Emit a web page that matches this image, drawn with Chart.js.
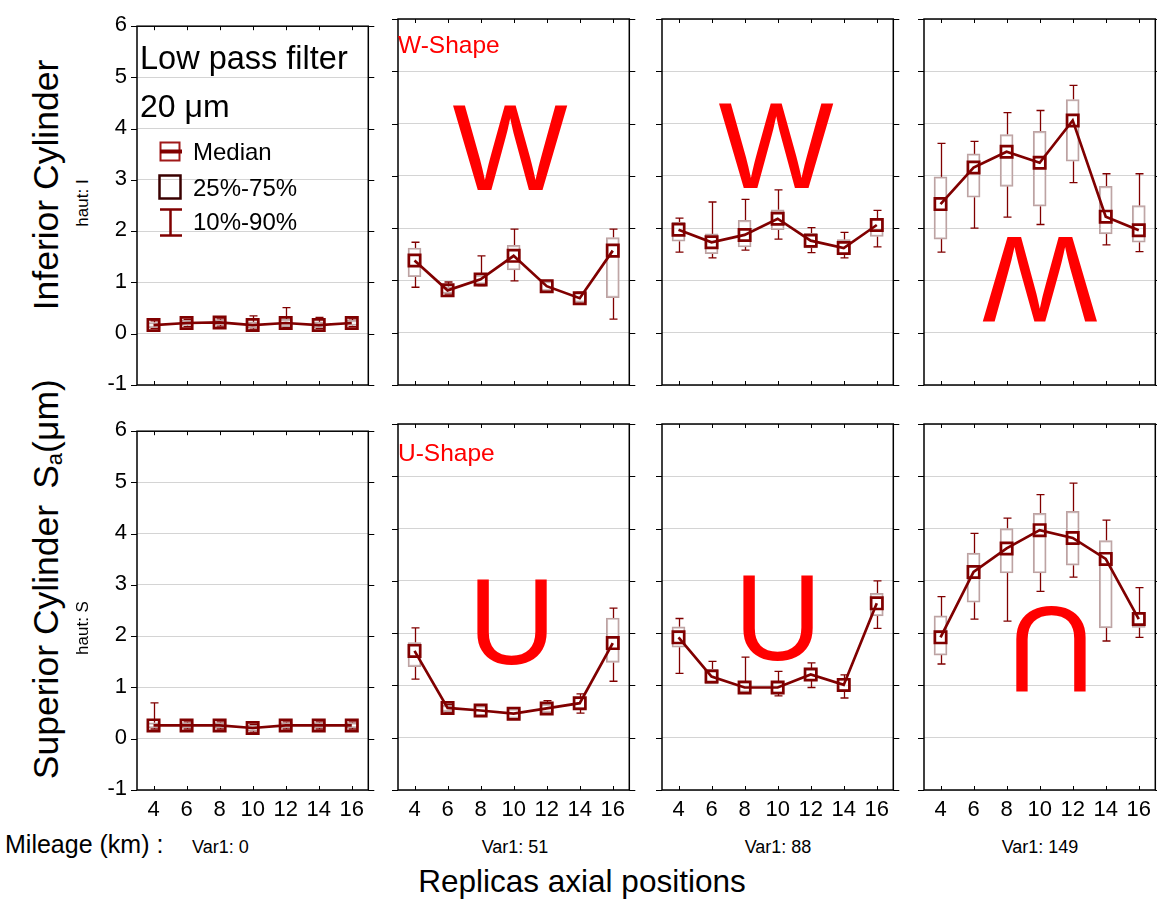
<!DOCTYPE html>
<html>
<head>
<meta charset="utf-8">
<script src="https://cdn.jsdelivr.net/npm/chart.js@4"></script>
<style>
  body { margin: 0; background: #fff; }
  #wrap { position: relative; width: 1157px; height: 902px; overflow: hidden; background: #fff;
          font-family: 'Liberation Sans', Arial, sans-serif; }
  .box { position: absolute; }
  .txt { position: absolute; line-height: 1; white-space: nowrap; color: #000; }
</style>
</head>
<body>
<div id="wrap"></div>
<script>
const positions = ['4', '6', '8', '10', '12', '14', '16'];
const mileages = ['Var1: 0', 'Var1: 51', 'Var1: 88', 'Var1: 149'];
const yTicks = [-1, 0, 1, 2, 3, 4, 5, 6];

// Inferior cylinder (haut: I), one row per mileage
const infMedian = [
    [0.17, 0.21, 0.22, 0.17, 0.21, 0.17, 0.21],
    [1.38, 0.81, 1.02, 1.47, 0.89, 0.66, 1.57],
    [1.97, 1.73, 1.87, 2.18, 1.76, 1.62, 2.06],
    [2.46, 3.16, 3.46, 3.25, 4.06, 2.22, 1.96]
];
const infQ1 = [
    [0.12, 0.16, 0.17, 0.11, 0.14, 0.12, 0.16],
    [1.07, 0.75, 0.93, 1.20, 0.80, 0.58, 0.67],
    [1.75, 1.51, 1.64, 1.97, 1.62, 1.49, 1.84],
    [1.79, 2.59, 2.80, 2.42, 3.28, 1.89, 1.73]
];
const infQ3 = [
    [0.22, 0.26, 0.27, 0.23, 0.28, 0.23, 0.26],
    [1.62, 0.88, 1.10, 1.67, 0.98, 0.76, 1.82],
    [2.11, 1.89, 2.15, 2.35, 1.90, 1.78, 2.19],
    [2.98, 3.42, 3.79, 3.85, 4.46, 2.80, 2.43]
];
const infP10 = [
    [0.10, 0.14, 0.15, 0.09, 0.12, 0.10, 0.14],
    [0.87, 0.74, 0.90, 0.99, 0.78, 0.56, 0.26],
    [1.54, 1.43, 1.58, 1.79, 1.53, 1.43, 1.64],
    [1.54, 2.00, 2.21, 2.07, 2.87, 1.68, 1.55]
];
const infP90 = [
    [0.25, 0.28, 0.29, 0.35, 0.51, 0.32, 0.29],
    [1.73, 0.97, 1.47, 1.98, 0.97, 0.77, 1.98],
    [2.19, 2.50, 2.55, 2.73, 2.01, 1.92, 2.34],
    [3.62, 3.66, 4.21, 4.25, 4.73, 3.04, 3.04]
];

// Superior cylinder (haut: S)
const supMedian = [
    [0.26, 0.26, 0.26, 0.21, 0.26, 0.26, 0.26],
    [1.66, 0.57, 0.52, 0.46, 0.56, 0.66, 1.81],
    [1.92, 1.17, 0.96, 0.96, 1.21, 1.01, 2.57],
    [1.92, 3.17, 3.62, 3.97, 3.82, 3.42, 2.27]
];
const supQ1 = [
    [0.21, 0.21, 0.21, 0.15, 0.21, 0.21, 0.21],
    [1.36, 0.50, 0.42, 0.37, 0.48, 0.55, 1.44],
    [1.73, 1.03, 0.87, 0.85, 1.09, 0.89, 2.33],
    [1.58, 2.59, 3.15, 3.15, 3.30, 2.10, 2.11]
];
const supQ3 = [
    [0.31, 0.31, 0.31, 0.26, 0.31, 0.31, 0.31],
    [1.82, 0.62, 0.61, 0.55, 0.64, 0.77, 2.29],
    [2.12, 1.31, 1.07, 1.06, 1.31, 1.12, 2.76],
    [2.33, 3.53, 4.00, 4.29, 4.33, 3.77, 2.40]
];
const supP10 = [
    [0.19, 0.19, 0.19, 0.13, 0.19, 0.19, 0.19],
    [1.12, 0.49, 0.41, 0.36, 0.45, 0.47, 1.08],
    [1.23, 1.03, 0.87, 0.80, 0.96, 0.76, 2.09],
    [1.41, 2.27, 2.23, 2.80, 3.07, 1.85, 1.92]
];
const supP90 = [
    [0.70, 0.33, 0.33, 0.28, 0.33, 0.33, 0.33],
    [2.10, 0.64, 0.63, 0.57, 0.71, 0.84, 2.48],
    [2.28, 1.46, 1.54, 1.27, 1.43, 1.20, 3.00],
    [2.70, 3.91, 4.20, 4.65, 4.87, 4.16, 2.87]
];

const FONT = "'Liberation Sans', Arial, sans-serif";
const DARK = '#800000';
const colLeft = [137, 398, 662, 924];
const rowTop = [19, 424];
const PW = 232, PH = 366;
const ML = 40, MR = 10, MT = 16, MB = 40;

const wrap = document.getElementById('wrap');

function addText(txt, x, base, size, opts = {}) {
    const d = document.createElement('div');
    d.className = 'txt';
    d.innerHTML = txt;
    d.style.fontSize = size + 'px';
    d.style.top = (base - 0.8465 * size) + 'px';
    if (opts.center) {
        d.style.left = (x - 300) + 'px';
        d.style.width = '600px';
        d.style.textAlign = 'center';
    } else {
        d.style.left = x + 'px';
    }
    if (opts.color) d.style.color = opts.color;
    wrap.appendChild(d);
    return d;
}

// vertical text reading bottom to top
function addVText(txt, baseX, centerY, size) {
    const d = document.createElement('div');
    d.className = 'txt';
    d.innerHTML = txt;
    d.style.fontSize = size + 'px';
    d.style.width = '400px';
    d.style.textAlign = 'center';
    d.style.left = (baseX - 0.8465 * size) + 'px';
    d.style.top = (centerY + 200) + 'px';
    d.style.transformOrigin = '0 0';
    d.style.transform = 'rotate(-90deg)';
    wrap.appendChild(d);
}

// big red shape letters
function bigLetter(ch, cx, y, flipped) {
    const size = 122;
    const d = document.createElement('div');
    d.className = 'txt';
    d.textContent = ch;
    d.style.fontSize = size + 'px';
    d.style.color = '#ff0000';
    d.style.width = '300px';
    d.style.textAlign = 'center';
    d.style.left = (cx - 150) + 'px';
    if (flipped) {
        d.style.top = (y - 0.1535 * size) + 'px';
        d.style.transform = 'rotate(180deg)';
    } else {
        d.style.top = (y - 0.8465 * size) + 'px';
    }
    wrap.appendChild(d);
}

function panelPlugin(stats) {
    return {
        id: 'panel',
        beforeDatasetsDraw(chart) {
            const { ctx, scales: { x, y } } = chart;
            ctx.save();
            ctx.strokeStyle = DARK;
            ctx.lineWidth = 1.3;
            const seg = (px, a, b) => {
                const ya = y.getPixelForValue(a), yb = y.getPixelForValue(b);
                ctx.beginPath();
                ctx.moveTo(px, ya);
                ctx.lineTo(px, yb);
                ctx.moveTo(px - 4, yb);
                ctx.lineTo(px + 4, yb);
                ctx.stroke();
            };
            stats.median.forEach((m, i) => {
                const px = Math.round(x.getPixelForValue(i)) + 0.5;
                if (stats.p90[i] > stats.q3[i]) seg(px, stats.q3[i], stats.p90[i]);
                if (stats.p10[i] < stats.q1[i]) seg(px, stats.q1[i], stats.p10[i]);
            });
            ctx.restore();
        },
        afterDraw(chart) {
            const { ctx, chartArea: a, scales: { x, y } } = chart;
            ctx.save();
            ctx.strokeStyle = '#000';
            ctx.lineWidth = 1.5;
            ctx.strokeRect(a.left, a.top, a.right - a.left, a.bottom - a.top);
            ctx.lineWidth = 1;
            ctx.beginPath();
            yTicks.forEach(v => {
                const py = Math.round(y.getPixelForValue(v)) + 0.5;
                ctx.moveTo(a.left - 6, py); ctx.lineTo(a.left, py);
                ctx.moveTo(a.right, py); ctx.lineTo(a.right + 6, py);
            });
            positions.forEach((p, i) => {
                const px = Math.round(x.getPixelForValue(i)) + 0.5;
                ctx.moveTo(px, a.bottom); ctx.lineTo(px, a.bottom - 4);
                ctx.moveTo(px, a.top); ctx.lineTo(px, a.top + 4);
            });
            ctx.stroke();
            ctx.restore();
        }
    };
}

// legend symbols in the first panel (canvas offset ox, oy)
function legendPlugin(ox, oy) {
    return {
        id: 'legendSymbols',
        afterDraw(chart) {
            const ctx = chart.ctx;
            ctx.save();
            ctx.translate(-ox, -oy);
            ctx.strokeStyle = '#a01818';
            ctx.lineWidth = 2;
            ctx.strokeRect(160.5, 142.5, 19, 18);
            ctx.strokeStyle = DARK;
            ctx.lineWidth = 4;
            ctx.beginPath(); ctx.moveTo(160, 151.5); ctx.lineTo(182, 151.5); ctx.stroke();
            ctx.strokeStyle = '#3a0000';
            ctx.lineWidth = 2.5;
            ctx.strokeRect(159.5, 175.5, 21, 23);
            ctx.strokeStyle = DARK;
            ctx.lineWidth = 2.5;
            ctx.beginPath();
            ctx.moveTo(170.5, 209); ctx.lineTo(170.5, 235);
            ctx.moveTo(160, 209.5); ctx.lineTo(182, 209.5);
            ctx.moveTo(160, 235.5); ctx.lineTo(182, 235.5);
            ctx.stroke();
            ctx.restore();
        }
    };
}

function makePanel(row, col, stats) {
    const left = colLeft[col] - ML, top = rowTop[row] - MT;
    const box = document.createElement('div');
    box.className = 'box';
    box.style.left = left + 'px';
    box.style.top = top + 'px';
    box.style.width = (PW + ML + MR) + 'px';
    box.style.height = (PH + MT + MB) + 'px';
    const canvas = document.createElement('canvas');
    box.appendChild(canvas);
    wrap.appendChild(box);

    const plugins = [panelPlugin(stats)];
    if (row === 0 && col === 0) plugins.push(legendPlugin(left, top));

    new Chart(canvas, {
        data: {
            labels: positions,
            datasets: [{
                type: 'line',
                data: stats.median,
                borderColor: DARK,
                borderWidth: 2.7,
                tension: 0,
                pointStyle: 'rect',
                pointRadius: 8,
                pointBorderWidth: 2.7,
                pointBorderColor: DARK,
                pointBackgroundColor: 'rgba(0,0,0,0)',
                order: 0
            }, {
                type: 'bar',
                data: stats.q1.map((v, i) => [v, stats.q3[i]]),
                backgroundColor: 'rgba(255,255,255,0.4)',
                borderColor: '#bda3a3',
                borderWidth: 1.5,
                borderSkipped: false,
                barThickness: 13,
                order: 1
            }]
        },
        options: {
            responsive: true,
            maintainAspectRatio: false,
            animation: false,
            layout: { padding: { top: MT, right: MR, left: 0, bottom: 0 } },
            plugins: { legend: { display: false }, tooltip: { enabled: false } },
            scales: {
                x: {
                    type: 'category',
                    offset: true,
                    grid: { display: true, drawOnChartArea: false, drawTicks: false },
                    border: { display: false },
                    ticks: {
                        display: row === 1,
                        autoSkip: false,
                        maxRotation: 0,
                        padding: 7,
                        color: '#000',
                        font: { family: FONT, size: 22 }
                    },
                    afterFit: s => { s.height = MB; }
                },
                y: {
                    min: -1,
                    max: 6,
                    grid: { color: '#d4d4d4', lineWidth: 1, drawTicks: false },
                    border: { display: false },
                    ticks: {
                        display: col === 0,
                        stepSize: 1,
                        padding: 10,
                        labelOffset: -1,
                        color: '#000',
                        font: { family: FONT, size: 22 }
                    },
                    afterFit: s => { s.width = ML; }
                }
            }
        },
        plugins: plugins
    });
}

for (let c = 0; c < 4; c++) {
    makePanel(0, c, { median: infMedian[c], q1: infQ1[c], q3: infQ3[c], p10: infP10[c], p90: infP90[c] });
    makePanel(1, c, { median: supMedian[c], q1: supQ1[c], q3: supQ3[c], p10: supP10[c], p90: supP90[c] });
}

// annotations
addText('Low pass filter', 140, 70, 32.5);
addText('20 μm', 140, 117, 32);
addText('Median', 193, 160, 24);
addText('25%-75%', 193, 196, 24);
addText('10%-90%', 193, 230, 24);
addText('W-Shape', 398, 54, 24.5, { color: '#ff0000' });
addText('U-Shape', 398, 462, 24.5, { color: '#ff0000' });

bigLetter('W', 510, 190, false);
bigLetter('W', 776, 188, false);
bigLetter('W', 1040, 237, true);
bigLetter('U', 512, 664, false);
bigLetter('U', 778, 660, false);
bigLetter('U', 1051, 607, true);

addVText('Inferior Cylinder', 59, 185, 35.5);
addVText('haut: I', 88, 203, 17);
addVText('Superior Cylinder', 59, 642, 35.5);
addVText('S<span style="font-size:22px;vertical-align:-4px">a</span>(μm)', 59, 434, 35.5);
addVText('haut: S', 88, 628, 17);

addText('Mileage (km) :', 5, 853, 25);
addText(mileages[0], 192, 853, 18);
addText(mileages[1], 515, 853, 18, { center: true });
addText(mileages[2], 778, 853, 18, { center: true });
addText(mileages[3], 1040, 853, 18, { center: true });
addText('Replicas axial positions', 582, 893, 31.5, { center: true });
</script>
</body>
</html>
